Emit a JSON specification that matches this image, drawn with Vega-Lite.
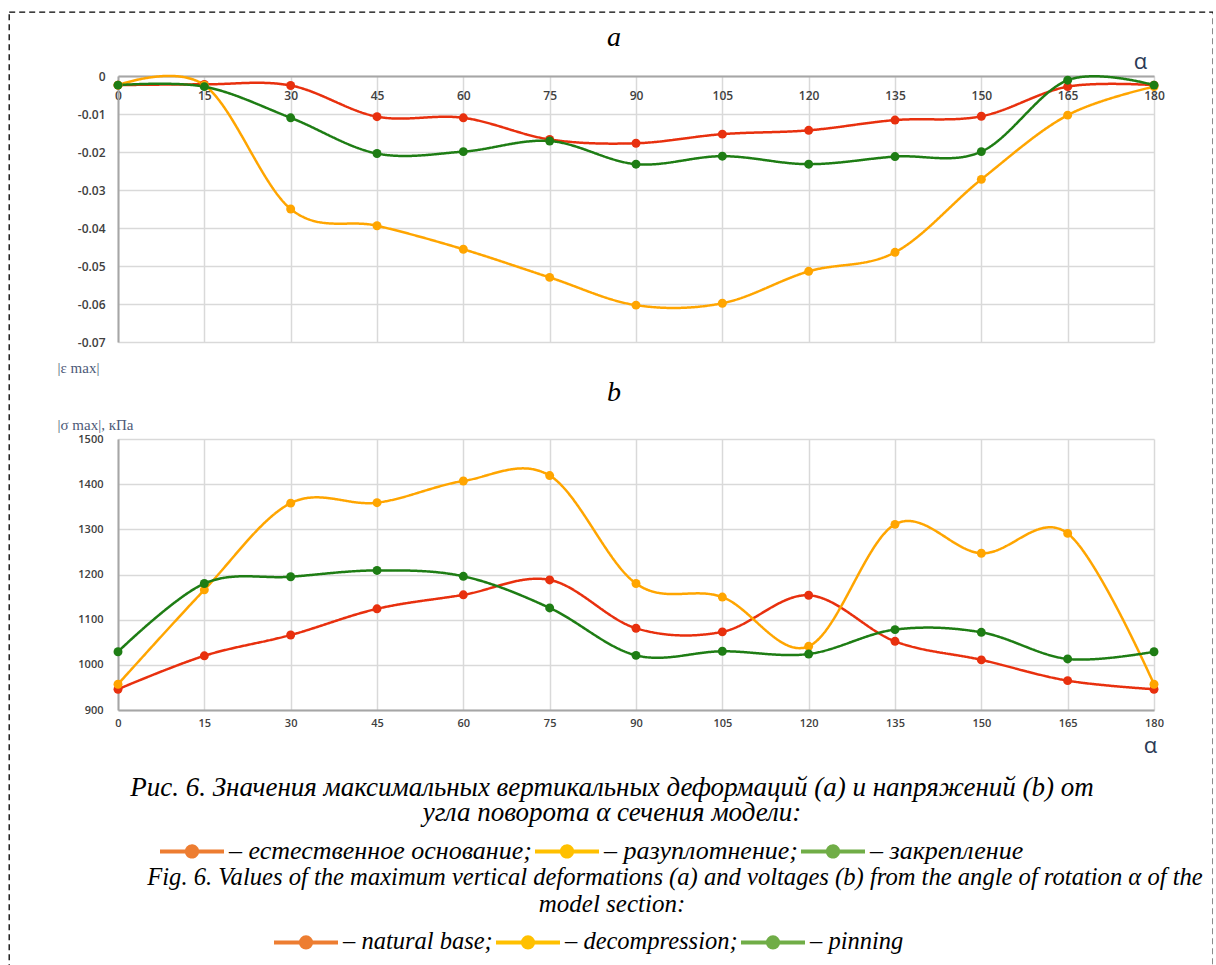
{
  "$schema": "https://vega.github.io/schema/vega-lite/v6.json",
  "background": "white",
  "padding": {"left": 9, "top": 12, "right": 0, "bottom": 0},
  "params": [
    {"name": "width", "value": 1204},
    {"name": "height", "value": 965}
  ],
  "datasets": {
    "deformation": [
      {"angle": 0, "series": "nat", "ru": "естественное основание", "en": "natural base", "eps": -0.0024},
      {"angle": 15, "series": "nat", "ru": "естественное основание", "en": "natural base", "eps": -0.0022},
      {"angle": 30, "series": "nat", "ru": "естественное основание", "en": "natural base", "eps": -0.0025},
      {"angle": 45, "series": "nat", "ru": "естественное основание", "en": "natural base", "eps": -0.0107},
      {"angle": 60, "series": "nat", "ru": "естественное основание", "en": "natural base", "eps": -0.011},
      {"angle": 75, "series": "nat", "ru": "естественное основание", "en": "natural base", "eps": -0.0167},
      {"angle": 90, "series": "nat", "ru": "естественное основание", "en": "natural base", "eps": -0.0177},
      {"angle": 105, "series": "nat", "ru": "естественное основание", "en": "natural base", "eps": -0.0153},
      {"angle": 120, "series": "nat", "ru": "естественное основание", "en": "natural base", "eps": -0.0143},
      {"angle": 135, "series": "nat", "ru": "естественное основание", "en": "natural base", "eps": -0.0116},
      {"angle": 150, "series": "nat", "ru": "естественное основание", "en": "natural base", "eps": -0.0106},
      {"angle": 165, "series": "nat", "ru": "естественное основание", "en": "natural base", "eps": -0.0028},
      {"angle": 180, "series": "nat", "ru": "естественное основание", "en": "natural base", "eps": -0.0024},
      {"angle": 0, "series": "dec", "ru": "разуплотнение", "en": "decompression", "eps": -0.0024},
      {"angle": 15, "series": "dec", "ru": "разуплотнение", "en": "decompression", "eps": -0.0024},
      {"angle": 30, "series": "dec", "ru": "разуплотнение", "en": "decompression", "eps": -0.035},
      {"angle": 45, "series": "dec", "ru": "разуплотнение", "en": "decompression", "eps": -0.0394},
      {"angle": 60, "series": "dec", "ru": "разуплотнение", "en": "decompression", "eps": -0.0456},
      {"angle": 75, "series": "dec", "ru": "разуплотнение", "en": "decompression", "eps": -0.053},
      {"angle": 90, "series": "dec", "ru": "разуплотнение", "en": "decompression", "eps": -0.0603},
      {"angle": 105, "series": "dec", "ru": "разуплотнение", "en": "decompression", "eps": -0.0598},
      {"angle": 120, "series": "dec", "ru": "разуплотнение", "en": "decompression", "eps": -0.0514},
      {"angle": 135, "series": "dec", "ru": "разуплотнение", "en": "decompression", "eps": -0.0464},
      {"angle": 150, "series": "dec", "ru": "разуплотнение", "en": "decompression", "eps": -0.0272},
      {"angle": 165, "series": "dec", "ru": "разуплотнение", "en": "decompression", "eps": -0.0103},
      {"angle": 180, "series": "dec", "ru": "разуплотнение", "en": "decompression", "eps": -0.0028},
      {"angle": 0, "series": "pin", "ru": "закрепление", "en": "pinning", "eps": -0.0024},
      {"angle": 15, "series": "pin", "ru": "закрепление", "en": "pinning", "eps": -0.0028},
      {"angle": 30, "series": "pin", "ru": "закрепление", "en": "pinning", "eps": -0.011},
      {"angle": 45, "series": "pin", "ru": "закрепление", "en": "pinning", "eps": -0.0204},
      {"angle": 60, "series": "pin", "ru": "закрепление", "en": "pinning", "eps": -0.0199},
      {"angle": 75, "series": "pin", "ru": "закрепление", "en": "pinning", "eps": -0.0171},
      {"angle": 90, "series": "pin", "ru": "закрепление", "en": "pinning", "eps": -0.0232},
      {"angle": 105, "series": "pin", "ru": "закрепление", "en": "pinning", "eps": -0.0211},
      {"angle": 120, "series": "pin", "ru": "закрепление", "en": "pinning", "eps": -0.0232},
      {"angle": 135, "series": "pin", "ru": "закрепление", "en": "pinning", "eps": -0.0212},
      {"angle": 150, "series": "pin", "ru": "закрепление", "en": "pinning", "eps": -0.0199},
      {"angle": 165, "series": "pin", "ru": "закрепление", "en": "pinning", "eps": -0.0011},
      {"angle": 180, "series": "pin", "ru": "закрепление", "en": "pinning", "eps": -0.0024}
    ],
    "stress": [
      {"angle": 0, "series": "nat", "ru": "естественное основание", "en": "natural base", "sigma": 946},
      {"angle": 15, "series": "nat", "ru": "естественное основание", "en": "natural base", "sigma": 1020},
      {"angle": 30, "series": "nat", "ru": "естественное основание", "en": "natural base", "sigma": 1066},
      {"angle": 45, "series": "nat", "ru": "естественное основание", "en": "natural base", "sigma": 1124},
      {"angle": 60, "series": "nat", "ru": "естественное основание", "en": "natural base", "sigma": 1155},
      {"angle": 75, "series": "nat", "ru": "естественное основание", "en": "natural base", "sigma": 1188},
      {"angle": 90, "series": "nat", "ru": "естественное основание", "en": "natural base", "sigma": 1081},
      {"angle": 105, "series": "nat", "ru": "естественное основание", "en": "natural base", "sigma": 1073},
      {"angle": 120, "series": "nat", "ru": "естественное основание", "en": "natural base", "sigma": 1154},
      {"angle": 135, "series": "nat", "ru": "естественное основание", "en": "natural base", "sigma": 1052},
      {"angle": 150, "series": "nat", "ru": "естественное основание", "en": "natural base", "sigma": 1011},
      {"angle": 165, "series": "nat", "ru": "естественное основание", "en": "natural base", "sigma": 965},
      {"angle": 180, "series": "nat", "ru": "естественное основание", "en": "natural base", "sigma": 946},
      {"angle": 0, "series": "dec", "ru": "разуплотнение", "en": "decompression", "sigma": 957},
      {"angle": 15, "series": "dec", "ru": "разуплотнение", "en": "decompression", "sigma": 1166},
      {"angle": 30, "series": "dec", "ru": "разуплотнение", "en": "decompression", "sigma": 1358},
      {"angle": 45, "series": "dec", "ru": "разуплотнение", "en": "decompression", "sigma": 1359},
      {"angle": 60, "series": "dec", "ru": "разуплотнение", "en": "decompression", "sigma": 1407},
      {"angle": 75, "series": "dec", "ru": "разуплотнение", "en": "decompression", "sigma": 1419},
      {"angle": 90, "series": "dec", "ru": "разуплотнение", "en": "decompression", "sigma": 1180},
      {"angle": 105, "series": "dec", "ru": "разуплотнение", "en": "decompression", "sigma": 1150},
      {"angle": 120, "series": "dec", "ru": "разуплотнение", "en": "decompression", "sigma": 1041},
      {"angle": 135, "series": "dec", "ru": "разуплотнение", "en": "decompression", "sigma": 1311},
      {"angle": 150, "series": "dec", "ru": "разуплотнение", "en": "decompression", "sigma": 1247},
      {"angle": 165, "series": "dec", "ru": "разуплотнение", "en": "decompression", "sigma": 1291},
      {"angle": 180, "series": "dec", "ru": "разуплотнение", "en": "decompression", "sigma": 957},
      {"angle": 0, "series": "pin", "ru": "закрепление", "en": "pinning", "sigma": 1029},
      {"angle": 15, "series": "pin", "ru": "закрепление", "en": "pinning", "sigma": 1180},
      {"angle": 30, "series": "pin", "ru": "закрепление", "en": "pinning", "sigma": 1195},
      {"angle": 45, "series": "pin", "ru": "закрепление", "en": "pinning", "sigma": 1209},
      {"angle": 60, "series": "pin", "ru": "закрепление", "en": "pinning", "sigma": 1196},
      {"angle": 75, "series": "pin", "ru": "закрепление", "en": "pinning", "sigma": 1126},
      {"angle": 90, "series": "pin", "ru": "закрепление", "en": "pinning", "sigma": 1021},
      {"angle": 105, "series": "pin", "ru": "закрепление", "en": "pinning", "sigma": 1030},
      {"angle": 120, "series": "pin", "ru": "закрепление", "en": "pinning", "sigma": 1024},
      {"angle": 135, "series": "pin", "ru": "закрепление", "en": "pinning", "sigma": 1078},
      {"angle": 150, "series": "pin", "ru": "закрепление", "en": "pinning", "sigma": 1072},
      {"angle": 165, "series": "pin", "ru": "закрепление", "en": "pinning", "sigma": 1013},
      {"angle": 180, "series": "pin", "ru": "закрепление", "en": "pinning", "sigma": 1029}
    ],
    "caption": [
      {"line": 1, "text": "Рис. 6. Значения максимальных вертикальных деформаций (a) и напряжений (b) от"},
      {"line": 2, "text": "угла поворота α сечения модели:"},
      {"line": 4, "text": "Fig. 6. Values of the maximum vertical deformations (a) and voltages (b) from the angle of rotation α of the"},
      {"line": 5, "text": "model section:"}
    ]
  },
  "spacing": 0,
  "hconcat": [
    {"width": 48, "height": 1, "data": {"values": []}, "mark": "point"},
    {
      "spacing": 4,
      "vconcat": [
        {"width": 1, "height": 8, "data": {"values": []}, "mark": "point"},
        {
          "width": 1036,
          "height": 266,
          "title": {"text": "a", "frame": "group", "anchor": "middle", "baseline": "alphabetic", "offset": -24, "dx": -22},
          "data": {"name": "deformation"},
          "encoding": {
            "x": {
              "field": "angle", "type": "quantitative",
              "scale": {"domain": [0, 180], "nice": false},
              "axis": {
                "orient": "bottom", "offset": -266,
                "values": [0, 15, 30, 45, 60, 75, 90, 105, 120, 135, 150, 165, 180],
                "labelPadding": 14, "labelFontSize": 12,
                "title": "α", "titleX": 1022, "titleY": -8
              }
            },
            "y": {
              "field": "eps", "type": "quantitative",
              "scale": {"domain": [-0.07, 0], "nice": false, "zero": false},
              "axis": {
                "values": [-0.07, -0.06, -0.05, -0.04, -0.03, -0.02, -0.01, 0],
                "labelExpr": "datum.value == 0 ? '0' : '-0.0' + round(-datum.value * 100)",
                "labelPadding": 13, "labelFontSize": 12,
                "title": "|ε max|", "titleX": -61, "titleY": 296,
                "titleFont": "Liberation Serif", "titleFontSize": 15, "titleColor": "#4d5a78"
              }
            }
          },
          "layer": [
            {
              "mark": {"type": "line", "interpolate": "cardinal", "strokeWidth": 2.5},
              "encoding": {
                "color": {
                  "field": "series", "type": "nominal", "legend": null,
                  "scale": {"domain": ["nat", "dec", "pin"], "range": ["#E8300E", "#FFA500", "#1E7D14"]}
                },
                "strokeDash": {
                  "field": "ru", "type": "nominal",
                  "scale": {"domain": ["естественное основание", "разуплотнение", "закрепление"], "range": [[1, 0], [1, 0], [1, 0]]},
                  "legend": {
                    "orient": "none", "legendX": 149, "legendY": 805, "direction": "horizontal", "title": null,
                    "symbolType": "M-1,0L1,0M-0.16,0A0.16,0.16,0,1,1,0.16,0A0.16,0.16,0,1,1,-0.16,0ZM-0.08,0A0.08,0.08,0,1,1,0.08,0A0.08,0.08,0,1,1,-0.08,0Z",
                    "symbolSize": 4096, "symbolStrokeWidth": 4,
                    "labelFont": "Liberation Serif", "labelFontStyle": "italic", "labelFontSize": 26,
                    "labelColor": "#000", "labelLimit": 800, "labelOffset": 3, "columnPadding": -5,
                    "labelExpr": "'– ' + datum.label + (datum.value == 'закрепление' ? '' : ';')",
                    "encode": {"symbols": {"update": {
                      "fill": {"signal": "datum.value == 'естественное основание' ? '#ED7D31' : datum.value == 'разуплотнение' ? '#FFC000' : '#70AD47'"},
                      "stroke": {"signal": "datum.value == 'естественное основание' ? '#ED7D31' : datum.value == 'разуплотнение' ? '#FFC000' : '#70AD47'"},
                      "fillOpacity": {"value": 1},
                      "opacity": {"value": 1}
                    }}}
                  }
                }
              }
            },
            {
              "mark": {"type": "point", "filled": true, "size": 80, "opacity": 1, "strokeWidth": 0},
              "encoding": {
                "fill": {
                  "field": "series", "type": "nominal", "legend": null,
                  "scale": {"domain": ["nat", "dec", "pin"], "range": ["#E8300E", "#FFA500", "#1E7D14"]}
                },
                "stroke": {
                  "field": "en", "type": "nominal",
                  "scale": {"domain": ["natural base", "decompression", "pinning"], "range": ["#ED7D31", "#FFC000", "#70AD47"]},
                  "legend": {
                    "orient": "none", "legendX": 263, "legendY": 896, "direction": "horizontal", "title": null,
                    "symbolType": "M-1,0L1,0M-0.16,0A0.16,0.16,0,1,1,0.16,0A0.16,0.16,0,1,1,-0.16,0ZM-0.08,0A0.08,0.08,0,1,1,0.08,0A0.08,0.08,0,1,1,-0.08,0Z",
                    "symbolSize": 4096, "symbolStrokeWidth": 4,
                    "labelFont": "Liberation Serif", "labelFontStyle": "italic", "labelFontSize": 24.5,
                    "labelColor": "#000", "labelLimit": 800, "labelOffset": 3, "columnPadding": -5,
                    "labelExpr": "'– ' + datum.label + (datum.value == 'pinning' ? '' : ';')",
                    "encode": {"symbols": {"update": {
                      "fill": {"signal": "datum.value == 'natural base' ? '#ED7D31' : datum.value == 'decompression' ? '#FFC000' : '#70AD47'"},
                      "fillOpacity": {"value": 1},
                      "strokeOpacity": {"value": 1},
                      "strokeWidth": {"value": 4},
                      "opacity": {"value": 1}
                    }}}
                  }
                }
              }
            }
          ]
        },
        {
          "width": 1036,
          "height": 271,
          "title": {"text": "b", "frame": "group", "anchor": "middle", "baseline": "alphabetic", "offset": -12, "dx": -22},
          "data": {"name": "stress"},
          "encoding": {
            "x": {
              "field": "angle", "type": "quantitative",
              "scale": {"domain": [0, 180], "nice": false},
              "axis": {
                "values": [0, 15, 30, 45, 60, 75, 90, 105, 120, 135, 150, 165, 180],
                "labelPadding": 7, "labelFontSize": 11,
                "title": "α", "titleX": 1032, "titleY": 42
              }
            },
            "y": {
              "field": "sigma", "type": "quantitative",
              "scale": {"domain": [900, 1500], "nice": false, "zero": false},
              "axis": {
                "values": [900, 1000, 1100, 1200, 1300, 1400, 1500],
                "format": "d",
                "labelPadding": 15, "labelFontSize": 11,
                "title": "|σ max|, кПа", "titleX": -61, "titleY": -10,
                "titleFont": "Liberation Serif", "titleFontSize": 15, "titleColor": "#4d5a78"
              }
            }
          },
          "layer": [
            {
              "mark": {"type": "line", "interpolate": "cardinal", "strokeWidth": 2.5},
              "encoding": {
                "color": {
                  "field": "series", "type": "nominal", "legend": null,
                  "scale": {"domain": ["nat", "dec", "pin"], "range": ["#E8300E", "#FFA500", "#1E7D14"]}
                },
                "strokeDash": {
                  "field": "ru", "type": "nominal",
                  "scale": {"domain": ["естественное основание", "разуплотнение", "закрепление"], "range": [[1, 0], [1, 0], [1, 0]]},
                  "legend": {
                    "orient": "none", "legendX": 149, "legendY": 805, "direction": "horizontal", "title": null,
                    "symbolType": "M-1,0L1,0M-0.16,0A0.16,0.16,0,1,1,0.16,0A0.16,0.16,0,1,1,-0.16,0ZM-0.08,0A0.08,0.08,0,1,1,0.08,0A0.08,0.08,0,1,1,-0.08,0Z",
                    "symbolSize": 4096, "symbolStrokeWidth": 4,
                    "labelFont": "Liberation Serif", "labelFontStyle": "italic", "labelFontSize": 26,
                    "labelColor": "#000", "labelLimit": 800, "labelOffset": 3, "columnPadding": -5,
                    "labelExpr": "'– ' + datum.label + (datum.value == 'закрепление' ? '' : ';')",
                    "encode": {"symbols": {"update": {
                      "fill": {"signal": "datum.value == 'естественное основание' ? '#ED7D31' : datum.value == 'разуплотнение' ? '#FFC000' : '#70AD47'"},
                      "stroke": {"signal": "datum.value == 'естественное основание' ? '#ED7D31' : datum.value == 'разуплотнение' ? '#FFC000' : '#70AD47'"},
                      "fillOpacity": {"value": 1},
                      "opacity": {"value": 1}
                    }}}
                  }
                }
              }
            },
            {
              "mark": {"type": "point", "filled": true, "size": 80, "opacity": 1, "strokeWidth": 0},
              "encoding": {
                "fill": {
                  "field": "series", "type": "nominal", "legend": null,
                  "scale": {"domain": ["nat", "dec", "pin"], "range": ["#E8300E", "#FFA500", "#1E7D14"]}
                },
                "stroke": {
                  "field": "en", "type": "nominal",
                  "scale": {"domain": ["natural base", "decompression", "pinning"], "range": ["#ED7D31", "#FFC000", "#70AD47"]},
                  "legend": {
                    "orient": "none", "legendX": 263, "legendY": 896, "direction": "horizontal", "title": null,
                    "symbolType": "M-1,0L1,0M-0.16,0A0.16,0.16,0,1,1,0.16,0A0.16,0.16,0,1,1,-0.16,0ZM-0.08,0A0.08,0.08,0,1,1,0.08,0A0.08,0.08,0,1,1,-0.08,0Z",
                    "symbolSize": 4096, "symbolStrokeWidth": 4,
                    "labelFont": "Liberation Serif", "labelFontStyle": "italic", "labelFontSize": 24.5,
                    "labelColor": "#000", "labelLimit": 800, "labelOffset": 3, "columnPadding": -5,
                    "labelExpr": "'– ' + datum.label + (datum.value == 'pinning' ? '' : ';')",
                    "encode": {"symbols": {"update": {
                      "fill": {"signal": "datum.value == 'natural base' ? '#ED7D31' : datum.value == 'decompression' ? '#FFC000' : '#70AD47'"},
                      "fillOpacity": {"value": 1},
                      "strokeOpacity": {"value": 1},
                      "strokeWidth": {"value": 4},
                      "opacity": {"value": 1}
                    }}}
                  }
                }
              }
            }
          ]
        },
        {
          "width": 988,
          "height": 172.5,
          "data": {"name": "caption"},
          "encoding": {
            "y": {"field": "line", "type": "quantitative", "scale": {"domain": [0.05, 6], "reverse": true}, "axis": null},
            "text": {"field": "text", "type": "nominal"}
          },
          "layer": [
            {
              "transform": [{"filter": "datum.line == 1"}],
              "mark": {"type": "text", "font": "Liberation Serif", "fontStyle": "italic", "fontSize": 27, "align": "center", "baseline": "middle", "color": "#000"}
            },
            {
              "transform": [{"filter": "datum.line == 2"}],
              "mark": {"type": "text", "font": "Liberation Serif", "fontStyle": "italic", "fontSize": 27, "align": "center", "baseline": "middle", "color": "#000", "dy": -4}
            },
            {
              "transform": [{"filter": "datum.line == 4"}],
              "mark": {"type": "text", "font": "Liberation Serif", "fontStyle": "italic", "fontSize": 24.6, "align": "center", "baseline": "middle", "color": "#000", "dx": 63, "dy": 3}
            },
            {
              "transform": [{"filter": "datum.line == 5"}],
              "mark": {"type": "text", "font": "Liberation Serif", "fontStyle": "italic", "fontSize": 25, "align": "center", "baseline": "middle", "color": "#000"}
            }
          ]
        }
      ]
    }
  ],
  "config": {
    "view": {"stroke": null},
    "group": {"stroke": "#000", "strokeWidth": 1.3, "strokeDash": [6, 4], "fill": null},
    "title": {"font": "Liberation Serif", "fontStyle": "italic", "fontSize": 28, "fontWeight": "normal", "color": "#000"},
    "axis": {
      "ticks": false,
      "domainColor": "#a6a6a6", "domainWidth": 2,
      "grid": true, "gridColor": "#d9d9d9", "gridWidth": 1.5,
      "labelFont": "Open Sans", "labelFontWeight": 600, "labelColor": "#404040",
      "labelFlush": false, "labelOverlap": false,
      "titleFont": "Open Sans", "titleFontSize": 22, "titleFontWeight": "normal", "titleColor": "#2b3a55",
      "titleAngle": 0, "titleAlign": "left", "titleBaseline": "alphabetic"
    },
    "axisX": {"titleAlign": "center"}
  }
}
